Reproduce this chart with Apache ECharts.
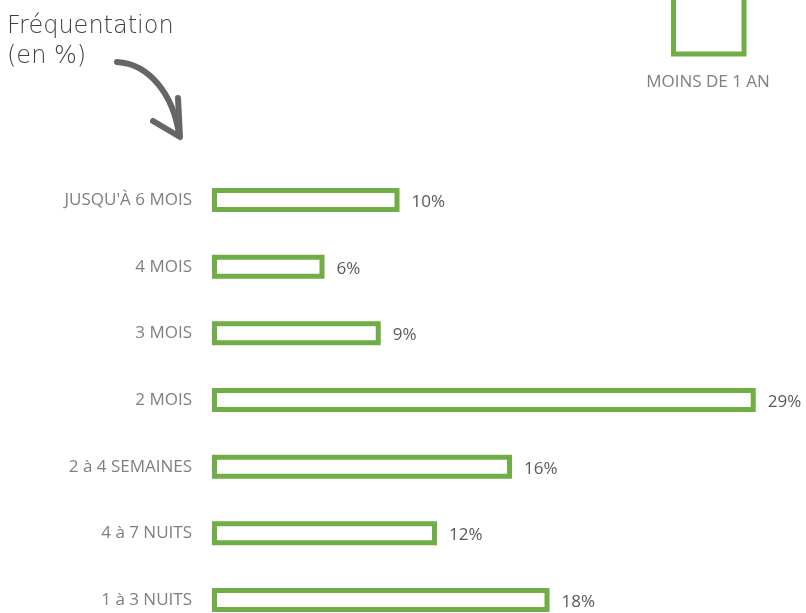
<!DOCTYPE html>
<html>
<head>
<meta charset="utf-8">
<script src="https://cdn.jsdelivr.net/npm/echarts@6/dist/echarts.min.js"></script>
<style>
  html, body { margin: 0; padding: 0; background: #fff; }
  #chart { width: 806px; height: 613px; }
</style>
</head>
<body>
<div id="chart"></div>
<script>
const categories = ["JUSQU'À 6 MOIS", "4 MOIS", "3 MOIS", "2 MOIS", "2 à 4 SEMAINES", "4 à 7 NUITS", "1 à 3 NUITS"];
const values = [10, 6, 9, 29, 16, 12, 18];
const seriesName = "MOINS DE 1 AN";

const green = "#70ad47";

const chart = echarts.init(document.getElementById("chart"));

const option = {
  backgroundColor: "#fff",
  animation: false,
  title: {
    text: "Fréquentation\n(en %)",
    left: 7,
    top: 12,
    padding: 0,
    textStyle: {
      fontFamily: "DejaVu Sans",
      fontWeight: 200,
      fontSize: 24,
      lineHeight: 30,
      color: "#404040"
    }
  },
  grid: {
    left: 212,
    right: 31.5,
    top: 200,
    bottom: 13,
    containLabel: false
  },
  xAxis: {
    type: "value",
    min: 0,
    max: 30,
    show: false
  },
  yAxis: {
    type: "category",
    data: categories,
    inverse: true,
    boundaryGap: false,
    axisLine: { show: false },
    axisTick: { show: false },
    splitLine: { show: false },
    axisLabel: {
      margin: 20,
      fontFamily: "Open Sans",
      fontSize: 17,
      color: "#7f7f7f"
    }
  },
  series: [
    {
      name: seriesName,
      type: "bar",
      data: values,
      barWidth: 24,
      itemStyle: {
        color: "#fff",
        borderColor: green,
        borderWidth: 5
      },
      label: {
        show: true,
        position: "right",
        distance: 12,
        offset: [0, 2],
        formatter: "{c}%",
        fontFamily: "Open Sans",
        fontSize: 17,
        color: "#595959"
      }
    }
  ],
  graphic: [
    // légende
    {
      type: "rect",
      shape: { x: 673.5, y: -20, width: 70.5, height: 74 },
      style: { fill: "#fff", stroke: green, lineWidth: 5 }
    },
    {
      type: "text",
      x: 708,
      y: 82,
      style: {
        text: seriesName,
        fontFamily: "Open Sans",
        fontSize: 17,
        fill: "#7f7f7f",
        textAlign: "center",
        textVerticalAlign: "middle"
      }
    },
    // flèche
    {
      type: "bezierCurve",
      shape: { x1: 117, y1: 62, cpx1: 150, cpy1: 64, cpx2: 173, cpy2: 95, x2: 179, y2: 134 },
      style: { stroke: "#666", lineWidth: 6, fill: null, lineCap: "round" }
    },
    {
      type: "polyline",
      shape: { points: [[153, 121], [180, 137], [178, 98]] },
      style: { stroke: "#666", lineWidth: 6, fill: null, lineCap: "round", lineJoin: "round" }
    }
  ]
};

chart.setOption(option);
</script>
</body>
</html>
